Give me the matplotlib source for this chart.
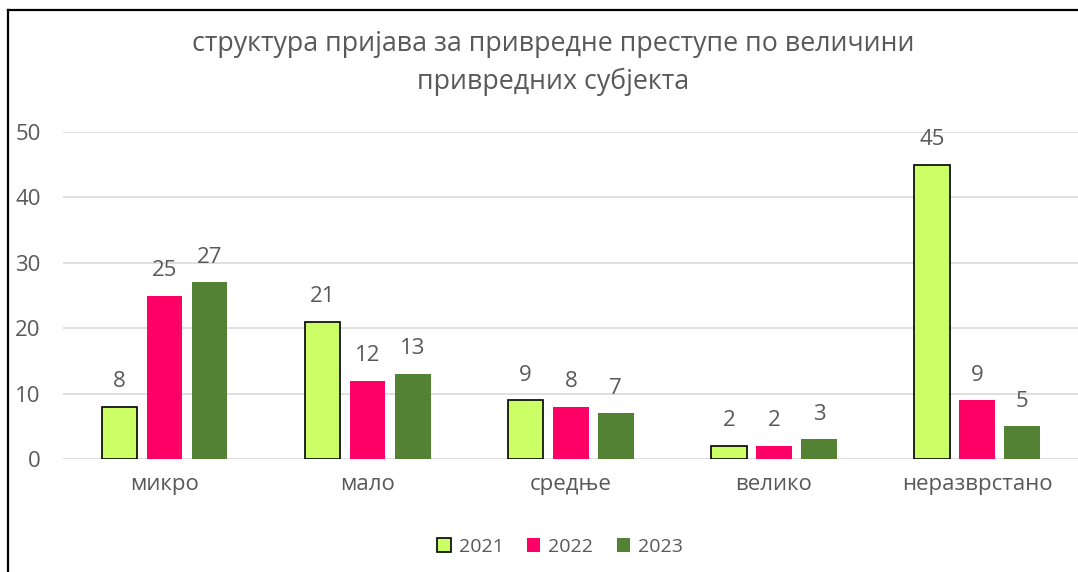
import matplotlib
matplotlib.use("Agg")
import matplotlib.pyplot as plt
from matplotlib.lines import Line2D
import numpy as np

categories = ["микро", "мало", "средње", "велико", "неразврстано"]
series_names = ["2021", "2022", "2023"]
v2021 = [8, 21, 9, 2, 45]
v2022 = [25, 12, 8, 2, 9]
v2023 = [27, 13, 7, 3, 5]
yticks = [0, 10, 20, 30, 40, 50]
title = "структура пријава за привредне преступе по величини\nпривредних субјекта"

colors = ["#CCFF66", "#FF0066", "#548235"]
edges = ["#000000", "none", "none"]
txt = "#595959"

plt.rcParams['font.family'] = ['Open Sans', 'DejaVu Sans']

W, H = 1078, 572
fig = plt.figure(figsize=(W/100, H/100), dpi=100)
ax = fig.add_axes([63/W, 1-459/H, (1078.5-63)/W, (459-132)/H])

x = np.arange(len(categories))
bw = 0.175
step = 0.222
for i, (vals, c, e, name) in enumerate(zip([v2021, v2022, v2023], colors, edges, series_names)):
    pos = x + (i-1)*step
    ax.bar(pos, vals, bw, color=c, edgecolor=e, linewidth=1.2 if e != "none" else 0, label=name, zorder=3)
    for p, v in zip(pos, vals):
        ax.annotate(str(v), (p, v), xytext=(0, 10.5), textcoords="offset points",
                    ha="center", va="bottom", fontsize=16, color=txt)

ax.set_xlim(-0.5, len(categories)-0.5)
ax.set_ylim(0, 50)
ax.set_yticks(yticks)
ax.set_yticklabels([str(t) for t in yticks], fontsize=16, color=txt)
ax.set_xticks(x)
ax.set_xticklabels(categories, fontsize=16, color=txt)
ax.tick_params(axis='both', length=0)
ax.tick_params(axis='y', pad=16)
ax.tick_params(axis='x', pad=11)
ax.grid(axis='y', color="#D9D9D9", linewidth=1.2, zorder=0)
for s in ax.spines.values():
    s.set_visible(False)

fig.text(553/W, 1-63/H, title, ha="center", va="center", fontsize=19.3, color=txt, linespacing=1.42)

leg = fig.legend(loc="center", bbox_to_anchor=(560/W, 1-547/H), ncol=3, frameon=False,
                 fontsize=14, handlelength=0.7, handleheight=0.7, handletextpad=0.4, columnspacing=1.2)
for t in leg.get_texts():
    t.set_color(txt)

fig.add_artist(Line2D([8/W, 1], [1-10/H, 1-10/H], color="black", linewidth=1.6, transform=fig.transFigure))
fig.add_artist(Line2D([8/W, 8/W], [0, 1-10/H], color="black", linewidth=1.6, transform=fig.transFigure))

fig.savefig("out.png", dpi=100)
